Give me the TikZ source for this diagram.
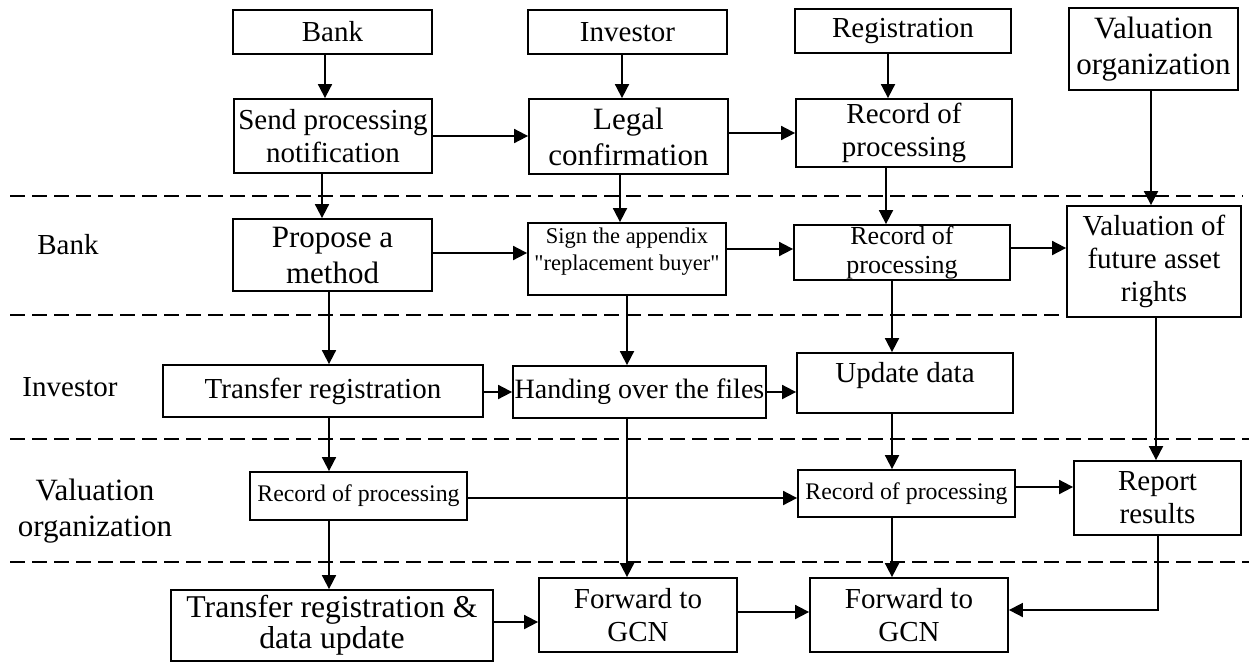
\documentclass[tikz,border=0pt]{standalone}
\usepackage{fontspec}
\setmainfont{Liberation Serif}
\usetikzlibrary{arrows.meta}
\tikzset{
  box/.style={draw,line width=1.8pt,inner sep=1pt,align=center},
  arr/.style={line width=1.8pt,-{Triangle[length=14pt,width=14pt]}},
  lane/.style={line width=1.8pt,dash pattern=on 15pt off 7pt},
  fA/.style={font=\fontsize{29}{33}\selectfont},
  fB/.style={font=\fontsize{31}{36}\selectfont},
  fC/.style={font=\fontsize{28}{30}\selectfont},
  fD/.style={font=\fontsize{26}{29}\selectfont},
  fE/.style={font=\fontsize{23.8}{27}\selectfont},
  fF/.style={font=\fontsize{22.5}{27}\selectfont},
  fG/.style={font=\fontsize{31.7}{31}\selectfont},
}
\newcommand{\FlowBox}[7]{%
  \node[box,#6,minimum width=#4pt,minimum height=#5pt] (#1) at (#2,#3) {#7};%
}

\begin{document}
\begin{tikzpicture}[x=1pt,y=-1pt]
\path[use as bounding box,fill=white] (0,0) rectangle (1249,662);
% lanes
\foreach \y/\xe in {196/1243,315/1067,439/1249,562/1249} {
  \draw[lane] (10,\y) -- (\xe,\y);
}
\node[fA] (lnBank) at (68,245) {Bank};
\node[fA] (lnInv) at (70,387) {Investor};
\node[fB,align=center] (lnVal) at (95,511) {Valuation\\organization};
% top row
\FlowBox{bankTop}{332.5}{32}{199}{44}{fA}{Bank}
\FlowBox{invTop}{627.5}{32}{199}{44}{fA}{Investor}
\FlowBox{regTop}{903}{31}{216}{44}{fA}{Registration}
\FlowBox{valTop}{1153.5}{49}{169}{82}{fB}{Valuation\\organization}
\FlowBox{notify}{333}{136}{198}{74}{fA}{Send processing\\notification}
\FlowBox{legal}{628.5}{136.5}{199}{75}{fB}{Legal\\confirmation}
\FlowBox{recA}{904}{133}{216}{68}{fA}{Record of\\processing}
% bank lane
\FlowBox{propose}{332.5}{255}{199}{72}{fB}{Propose a\\method}
\FlowBox{sign}{627}{259}{198}{72}{fF,text depth=19pt}{Sign the appendix\\\textquotedbl replacement buyer\textquotedbl}
\FlowBox{recB}{902}{252.5}{216}{55}{fD}{Record of\\processing}
\FlowBox{valFut}{1154}{261.5}{174}{111}{fA}{Valuation of\\future asset\\rights}
% investor lane
\FlowBox{transfer}{323}{391}{320}{52}{font=\fontsize{29}{33}\selectfont}{Transfer registration}
\FlowBox{handing}{639.5}{392}{253}{52}{fC}{Handing over the files}
\FlowBox{update}{905}{383}{216}{60}{fA,text depth=22pt}{Update data}
% valuation lane
\FlowBox{recC}{358.5}{496}{217}{48}{fE}{Record of processing}
\FlowBox{recD}{906.5}{493.5}{217}{47}{fE}{Record of processing}
\FlowBox{report}{1157.5}{498}{167}{74}{fA}{Report\\results}
% last row
\FlowBox{transData}{332}{625.5}{322}{71}{fG}{Transfer registration \&\\data update}
\FlowBox{fwdA}{638}{615}{198}{74}{fA}{Forward to\\GCN}
\FlowBox{fwdB}{909}{615}{198}{74}{fA}{Forward to\\GCN}
% vertical flows
\draw[arr] (bankTop.south -| 325,0) -- (notify.north -| 325,0);
\draw[arr] (invTop.south -| 622,0) -- (legal.north -| 622,0);
\draw[arr] (regTop.south -| 888,0) -- (recA.north -| 888,0);
\draw[arr] (notify.south -| 322,0) -- (propose.north -| 322,0);
\draw[arr] (legal.south -| 620,0) -- (sign.north -| 620,0);
\draw[arr] (recA.south -| 886,0) -- (recB.north -| 886,0);
\draw[arr] (valTop.south -| 1151,0) -- (valFut.north -| 1151,0);
\draw[arr] (propose.south -| 329,0) -- (transfer.north -| 329,0);
\draw[arr] (sign.south -| 627,0) -- (handing.north -| 627,0);
\draw[arr] (recB.south -| 892,0) -- (update.north -| 892,0);
\draw[arr] (transfer.south -| 329,0) -- (recC.north -| 329,0);
\draw[arr] (update.south -| 892,0) -- (recD.north -| 892,0);
\draw[arr] (valFut.south -| 1156,0) -- (report.north -| 1156,0);
\draw[arr] (recC.south -| 329,0) -- (transData.north -| 329,0);
\draw[arr] (handing.south -| 627,0) -- (fwdA.north -| 627,0);
\draw[arr] (recD.south -| 892,0) -- (fwdB.north -| 892,0);
% horizontal flows
\draw[arr] (notify.east |- 0,136) -- (legal.west |- 0,136);
\draw[arr] (legal.east |- 0,133) -- (recA.west |- 0,133);
\draw[arr] (propose.east |- 0,253) -- (sign.west |- 0,253);
\draw[arr] (sign.east |- 0,249) -- (recB.west |- 0,249);
\draw[arr] (recB.east |- 0,248) -- (valFut.west |- 0,248);
\draw[arr] (transfer.east |- 0,392) -- (handing.west |- 0,392);
\draw[arr] (handing.east |- 0,392) -- (update.west |- 0,392);
\draw[arr] (recC.east |- 0,498) -- (recD.west |- 0,498);
\draw[arr] (recD.east |- 0,487) -- (report.west |- 0,487);
\draw[arr] (transData.east |- 0,622) -- (fwdA.west |- 0,622);
\draw[arr] (fwdA.east |- 0,612) -- (fwdB.west |- 0,612);
\draw[arr] (report.south -| 1158,0) |- (fwdB.east |- 0,610);
\end{tikzpicture}
\end{document}
